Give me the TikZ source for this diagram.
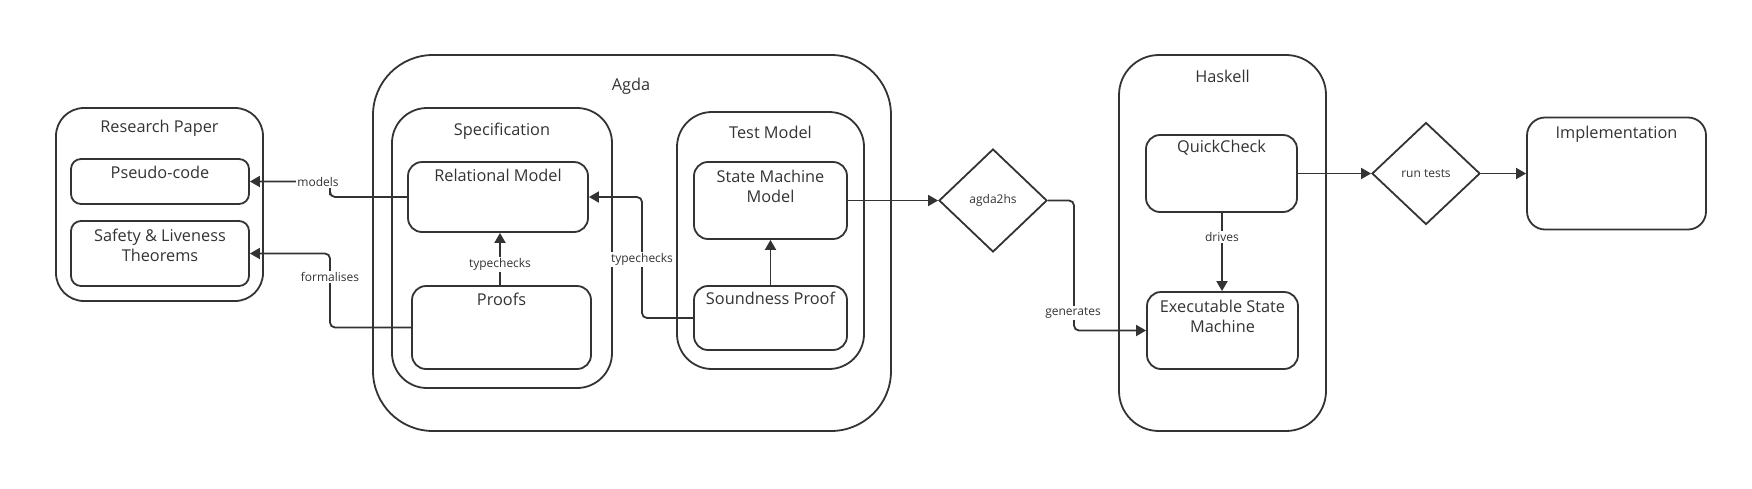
\documentclass[tikz,border=0pt]{standalone}
\usepackage{fontspec}
\setmainfont{Open Sans}
\usetikzlibrary{arrows.meta,shapes.geometric}
\definecolor{ink}{HTML}{333333}
\begin{document}
\begin{tikzpicture}[x=1pt,y=-1pt,
  box/.style={draw=ink,line width=1.8pt,rounded corners=#1,inner sep=0pt},
  ttl/.style={text=ink,font=\fontsize{16.3}{20}\selectfont,align=center,inner sep=1pt},
  lbl/.style={text=ink,font=\fontsize{12}{14}\selectfont,fill=white,inner sep=1.5pt},
  dia/.style={diamond,draw=ink,line width=1.8pt,inner sep=0pt,text=ink,font=\fontsize{12}{14}\selectfont},
  conn/.style={draw=ink,line width=1.8pt,rounded corners=5pt},
  arr/.style={conn,-{Triangle[length=10pt,width=11pt]}}]
\useasboundingbox (0,0) rectangle (1752,488);

% Research paper
\node[box=28pt,minimum width=207pt,minimum height=193pt] (rp) at (159.5,204.5) {};
\node[ttl] (rpT) at (159.5,128) {Research Paper};
\node[box=10pt,minimum width=178pt,minimum height=45pt] (ps) at (160,181.5) {};
\node[ttl] (psT) at (160,172) {Pseudo-code};
\node[box=10pt,minimum width=178pt,minimum height=65pt] (sf) at (160,253.5) {};
\node[ttl] (sfT) at (160,245) {Safety \& Liveness\\Theorems};

% Agda
\node[box=60pt,minimum width=518pt,minimum height=376pt] (ag) at (632,243) {};
\node[ttl] (agT) at (631,86) {Agda};
\node[box=35pt,minimum width=220pt,minimum height=280pt] (sp) at (502,248) {};
\node[ttl] (spT) at (502,131) {Specification};
\node[box=14pt,minimum width=180pt,minimum height=70pt] (rm) at (498,197) {};
\node[ttl] (rmT) at (498,175) {Relational Model};
\node[box=14pt,minimum width=179pt,minimum height=83pt] (pf) at (501.5,327.5) {};
\node[ttl] (pfT) at (501.5,299) {Proofs};
\node[box=35pt,minimum width=187pt,minimum height=257pt] (tm) at (770.5,240.5) {};
\node[ttl] (tmT) at (770.5,132) {Test Model};
\node[box=14pt,minimum width=153pt,minimum height=77pt] (smm) at (770.5,200.5) {};
\node[ttl] (smmT) at (770.5,186) {State Machine\\Model};
\node[box=14pt,minimum width=153pt,minimum height=64pt] (snd) at (770.5,318) {};
\node[ttl] (sndT) at (770.5,298) {Soundness Proof};

% agda2hs
\node[dia,minimum width=108pt,minimum height=103pt] (a2h) at (993,200.5) {agda2hs};

% Haskell
\node[box=40pt,minimum width=207pt,minimum height=376pt] (hs) at (1222.5,243) {};
\node[ttl] (hsT) at (1222.5,76) {Haskell};
\node[box=14pt,minimum width=151pt,minimum height=77pt] (qc) at (1221.5,173.5) {};
\node[ttl] (qcT) at (1221.5,148) {QuickCheck};
\node[box=14pt,minimum width=151pt,minimum height=77pt] (esm) at (1222.5,330.5) {};
\node[ttl] (esmT) at (1222.5,316.5) {Executable State\\Machine};

% run tests and implementation
\node[dia,minimum width=108pt,minimum height=102pt] (rt) at (1426,173.5) {run tests};
\node[box=18pt,minimum width=179pt,minimum height=112pt] (im) at (1616.5,173.5) {};
\node[ttl] (imT) at (1616.5,134) {Implementation};

% connectors
\coordinate (mX) at (330,190);
\coordinate (fX) at (330,290);
\coordinate (tX) at (642,260);
\coordinate (gX) at (1074,260);
\draw[arr] (rm.west) -| (mX) |- (ps.east);
\draw[arr] (pf.west) -| (fX) |- (sf.east);
\draw[arr] ([xshift=-1.5pt]pf.north) -- ([xshift=2pt]rm.south);
\draw[arr] (snd.west) -| (tX) |- (rm.east);
\draw[arr] (snd.north) -- (smm.south);
\draw[arr] (smm.east) -- (a2h.west);
\draw[arr] (a2h.east) -| (gX) |- (esm.west);
\draw[arr] ([xshift=0.5pt]qc.south) -- ([xshift=-0.5pt]esm.north);
\draw[arr] (qc.east) -- (rt.west);
\draw[arr] (rt.east) -- (im.west);

% labels
\node[lbl] (lModels) at (318,182) {models};
\node[lbl] (lForm) at (330,277) {formalises};
\node[lbl] (lTc1) at (500,264) {typechecks};
\node[lbl] (lTc2) at (642,259) {typechecks};
\node[lbl] (lGen) at (1073,313) {generates};
\node[lbl] (lDrv) at (1222,237) {drives};
\end{tikzpicture}
\end{document}
